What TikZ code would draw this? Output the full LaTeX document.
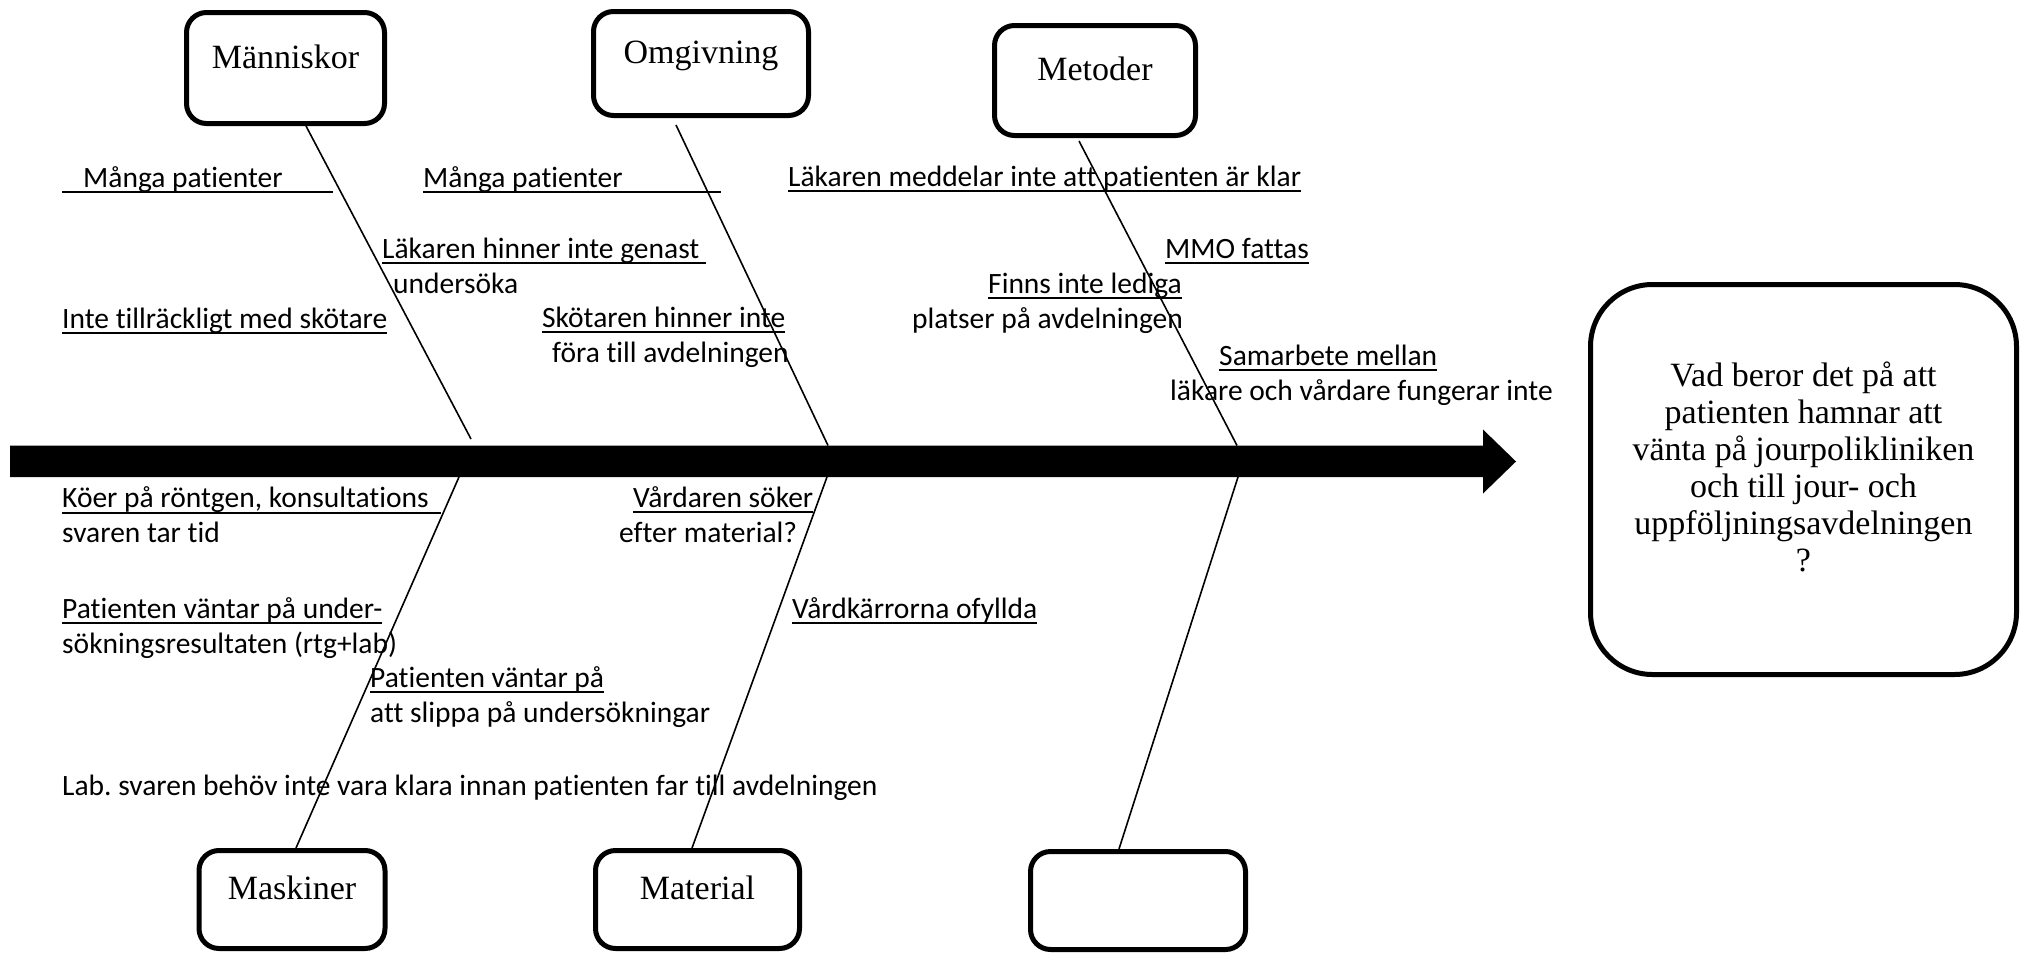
\documentclass[tikz,border=0pt]{standalone}
\usepackage{fontspec}
\newfontfamily\lblfont[Ligatures={NoCommon}]{Carlito}
\newfontfamily\boxfont{Liberation Serif}
\usetikzlibrary{calc}
\frenchspacing

% underlined cause text: leading gap, text, trailing gap (all underlined)
\newsavebox\ulsbox
\newcommand\ulseg[3]{\sbox\ulsbox{\hspace*{#1}#2\hspace*{#3}}\rlap{\rule[-6pt]{\wd\ulsbox}{1.8pt}}\usebox\ulsbox}

\tikzset{
  catbox/.style={draw, line width=5pt, rounded corners=20pt, inner sep=0pt,
    font=\boxfont\fontsize{34}{37}\selectfont, text height=12pt, text depth=12pt},
  effectbox/.style={draw, line width=5pt, rounded corners=62pt, inner sep=0pt,
    align=center, font=\boxfont\fontsize{34}{37}\selectfont},
  cause/.style={anchor=base west, inner sep=0pt, font=\lblfont\fontsize{29.5}{35}\selectfont},
  bone/.style={line width=1.6pt},
}

\begin{document}
\begin{tikzpicture}[x=1pt, y=-1pt]
\useasboundingbox (0,0) rectangle (2024,953);
\fill[white] (0,0) rectangle (2024,953);

% spine with its arrow head
\fill[black] (10,445.5) -- (1483,445.5) -- (1483,429.5) -- (1516,461.5)
  -- (1483,493.5) -- (1483,477) -- (10,477) -- cycle;

% where the bones meet the spine
\coordinate (j1) at (471,439);
\coordinate (j2) at (828,445.5);
\coordinate (j3) at (1237,445.5);
\coordinate (j4) at (459,477);
\coordinate (j5) at (827,477);
\coordinate (j6) at (1238,477);

% category boxes
\node[catbox, minimum width=198pt, minimum height=111pt] (man) at (285.5,68) {Människor};
\node[catbox, minimum width=215pt, minimum height=104pt] (omg) at (701,63.5) {Omgivning};
\node[catbox, minimum width=201pt, minimum height=110pt] (met) at (1095,80.5) {Metoder};
\node[catbox, minimum width=186pt, minimum height=98pt] (mask) at (292,899.5) {Maskiner};
\node[catbox, minimum width=204pt, minimum height=98pt] (mat) at (697.5,899.5) {Material};
\node[catbox, minimum width=215pt, minimum height=98pt] (emp) at (1138,900.5) {};

% effect box
\node[effectbox, minimum width=426pt, minimum height=390pt] (effect) at (1803.5,479.5)
  {\rule{0pt}{28pt}Vad beror det på att\\ patienten hamnar att\\ vänta på jourpolikliniken\\
   och till jour- och\\ uppföljningsavdelningen\\ ?\rule[-30pt]{0pt}{30pt}};

% bones
\draw[bone] ([xshift=20.5pt]man.south) -- (j1);
\draw[bone] ([xshift=-25pt,yshift=-7pt]omg.south) -- (j2);
\draw[bone] ([xshift=-16pt,yshift=-3pt]met.south) -- (j3);
\draw[bone] ([xshift=4pt]mask.north) -- (j4);
\draw[bone] ([xshift=-5.5pt]mat.north) -- (j5);
\draw[bone] ([xshift=-19pt]emp.north) -- (j6);

% causes above the spine
\node[cause] (c1) at (62,187) {\ulseg{21pt}{Många patienter}{50pt}};
\node[cause] (c2) at (423,187) {\ulseg{0pt}{Många patienter}{98pt}};
\node[cause] (c3) at (382,258) {\ulseg{0pt}{Läkaren hinner inte genast}{7pt}};
\node[cause] (c3b) at (393,293) {undersöka};
\node[cause] (c4) at (62,328) {\ulseg{0pt}{Inte tillräckligt med skötare}{0pt}};
\node[cause] (c5) at (542,327) {\ulseg{0pt}{Skötaren hinner inte}{0pt}};
\node[cause] (c5b) at (552,362) {föra till avdelningen};
\node[cause] (c6) at (788,186) {\ulseg{0pt}{Läkaren meddelar inte att patienten är klar}{0pt}};
\node[cause] (c7) at (1165,258) {\ulseg{0pt}{MMO fattas}{0pt}};
\node[cause] (c8) at (988,293) {\ulseg{0pt}{Finns inte lediga}{0pt}};
\node[cause] (c8b) at (912,328) {platser på avdelningen};
\node[cause] (c9) at (1219,365) {\ulseg{0pt}{Samarbete mellan}{0pt}};
\node[cause] (c9b) at (1170,400) {läkare och vårdare fungerar inte};

% causes below the spine
\node[cause] (d1) at (62,507.5) {\ulseg{0pt}{Köer på röntgen, konsultations}{12pt}};
\node[cause] (d1b) at (62,542.5) {svaren tar tid};
\node[cause] (d2) at (633,507) {\ulseg{0pt}{Vårdaren söker}{0pt}};
\node[cause] (d2b) at (619,542) {efter material?};
\node[cause] (d3) at (62,618) {\ulseg{0pt}{Patienten väntar på under-}{0pt}};
\node[cause] (d3b) at (62,653) {sökningsresultaten (rtg+lab)};
\node[cause] (d4) at (792,618) {\ulseg{0pt}{Vårdkärrorna ofyllda}{0pt}};
\node[cause] (d5) at (370,687) {\ulseg{0pt}{Patienten väntar på}{0pt}};
\node[cause] (d5b) at (370,722) {att slippa på undersökningar};
\node[cause] (d6) at (62,795) {Lab. svaren behöv inte vara klara innan patienten far till avdelningen};
\end{tikzpicture}
\end{document}
